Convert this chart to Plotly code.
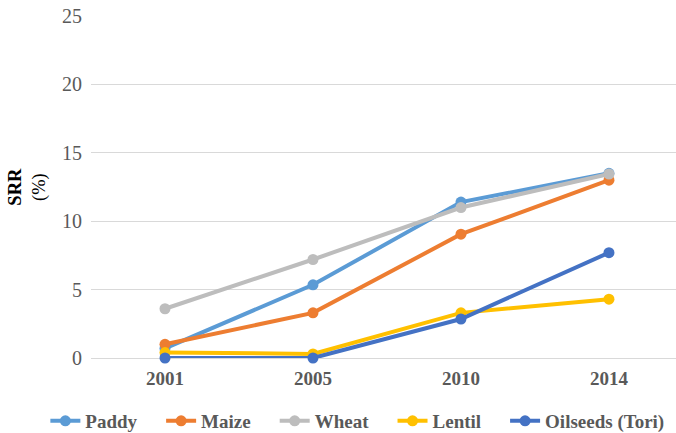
import plotly.graph_objects as go

years = ["2001", "2005", "2010", "2014"]
paddy = [0.7, 5.35, 11.4, 13.5]
maize = [1.0, 3.3, 9.05, 13.0]
wheat = [3.6, 7.2, 11.0, 13.45]
lentil = [0.4, 0.3, 3.3, 4.3]
oilseeds = [0.0, 0.0, 2.85, 7.7]

series = [
    ("Paddy", paddy, "#5B9BD5"),
    ("Maize", maize, "#ED7D31"),
    ("Wheat", wheat, "#BDBDBD"),
    ("Lentil", lentil, "#FFC000"),
    ("Oilseeds (Tori)", oilseeds, "#4472C4"),
]

SERIF = "Liberation Serif"
GREY_TEXT = "#595959"
PAD = "\u00a0" * 4  # extra room between legend entries

fig = go.Figure()
for name, vals, color in series:
    fig.add_trace(go.Scatter(
        x=years, y=vals, name="<b>%s</b>%s" % (name, PAD), mode="lines+markers",
        line=dict(color=color, width=4),
        marker=dict(color=color, size=11),
        cliponaxis=False,
    ))

fig.update_layout(
    width=676, height=433,
    margin=dict(l=91, r=0, t=16, b=75, autoexpand=False),
    plot_bgcolor="white", paper_bgcolor="white",
    showlegend=True,
    legend=dict(
        orientation="h", x=-0.078, xanchor="left", y=-0.184, yanchor="middle",
        font=dict(size=19, color=GREY_TEXT, family=SERIF),
        itemwidth=30, tracegroupgap=0,
    ),
    xaxis=dict(
        type="category", range=[-0.5, 3.453],
        showgrid=False, showline=False, zeroline=False,
        ticks="", ticklabelstandoff=7,
        tickfont=dict(size=19, color=GREY_TEXT, family=SERIF),
        tickvals=years, ticktext=["<b>%s</b>" % y for y in years],
    ),
    yaxis=dict(
        range=[0, 25], dtick=5, showgrid=True, gridcolor="#D9D9D9", gridwidth=1,
        zeroline=True, zerolinecolor="#D9D9D9", zerolinewidth=1,
        showline=False, ticks="", ticklabelstandoff=8,
        tickfont=dict(size=20, color=GREY_TEXT, family=SERIF),
    ),
    annotations=[dict(
        text="<b>SRR</b><br>(%)", textangle=-90, xref="paper", yref="paper",
        x=-0.11, y=0.5, xanchor="center", yanchor="middle", showarrow=False,
        font=dict(size=18.5, color="black", family=SERIF),
    )],
)

fig.write_html("out.html")
